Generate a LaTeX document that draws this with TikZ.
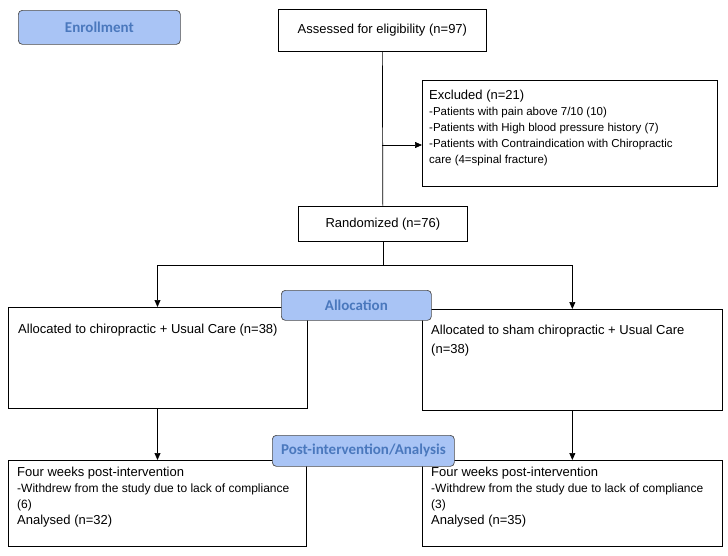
\documentclass[tikz,border=0pt]{standalone}
\usepackage{fontspec}
\setmainfont{Liberation Sans}
\newfontfamily\stagefont{Carlito}
\usetikzlibrary{positioning, arrows.meta}
\definecolor{stagefill}{HTML}{A9C4F5}
\definecolor{stagetext}{HTML}{4A78BD}
\tikzset{
    box/.style = {
        draw, rectangle, anchor=north west, inner sep=0pt, line width=0.7pt
    },
    boxtext/.style = {
        anchor=north west, align=left, font=\fontsize{13}{16}\selectfont, inner sep=0pt
    },
    stage/.style = {
        draw=black!70, fill=stagefill, rounded corners=4pt, anchor=north west, inner sep=0pt,
        text=stagetext, font=\stagefont\bfseries\fontsize{15}{17}\selectfont, line width=0.7pt
    },
    flow/.style = {line width=0.7pt, -{Triangle[width=6pt,length=7pt]}}
}
\begin{document}
\begin{tikzpicture}[x=1pt, y=-1pt]
        \useasboundingbox (0,0) rectangle (728,555);
        % Place the boxes
        \node[stage, minimum width=162, minimum height=34] (enrol) at (18,10) {Enrollment};
        \node[box, minimum width=208, minimum height=42] (assess) at (278,9) {};
        \node[boxtext, anchor=center] at (assess) {Assessed for eligibility (n=97)};
        \node[box, minimum width=295, minimum height=106] (excl) at (422,80) {};
        \node[boxtext, font=\fontsize{11.5}{16}\selectfont] at ([shift={(7,10)}] excl.north west)
            {{\fontsize{13}{16}\selectfont Excluded (n=21)}\\
             -Patients with pain above 7/10 (10)\\
             -Patients with High blood pressure history (7)\\
             -Patients with Contraindication with Chiropractic\\
             care (4=spinal fracture)};
        \node[box, minimum width=169, minimum height=35] (rand) at (298,206) {};
        \node[boxtext, anchor=center] at (rand) {Randomized (n=76)};
        \node[box, minimum width=299, minimum height=101] (leftalloc) at (8,307) {};
        \node[boxtext] at ([shift={(10,17)}] leftalloc.north west) {Allocated to chiropractic + Usual Care (n=38)};
        \node[box, minimum width=300, minimum height=101] (rightalloc) at (422,309) {};
        \node[boxtext, font=\fontsize{13}{19}\selectfont] at ([shift={(9,16)}] rightalloc.north west) {Allocated to sham chiropractic + Usual Care\\(n=38)};
        \node[box, minimum width=298, minimum height=86] (leftpost) at (8,460) {};
        \node[boxtext] at ([shift={(9,7)}] leftpost.north west)
            {Four weeks post-intervention\\{\fontsize{12}{16}\selectfont -Withdrew from the study due to lack of compliance}\\{\fontsize{12}{16}\selectfont (6)}\\Analysed (n=32)};
        \node[box, minimum width=300, minimum height=86] (rightpost) at (422,460) {};
        \node[boxtext] at ([shift={(9,7)}] rightpost.north west)
            {Four weeks post-intervention\\{\fontsize{12}{16}\selectfont -Withdrew from the study due to lack of compliance}\\{\fontsize{12}{16}\selectfont (3)}\\Analysed (n=35)};
        \node[stage, minimum width=150, minimum height=30] (alloc) at (281,290) {Allocation};
        \node[stage, minimum width=182, minimum height=31] (post) at (272,435) {Post-intervention/Analysis};
        % Connectors
        \draw[line width=0.7pt] (assess.south) -- (rand.north);
        \coordinate (split) at (assess.south |- 0,145);
        \draw[flow] (split) -- (split -| excl.west);
        \coordinate (fork) at (rand.south |- 0,265);
        \draw[line width=0.7pt] (rand.south) -- (fork);
        \draw[flow] (fork) -| ([xshift=149.5] leftalloc.north west);
        \draw[flow] (fork) -| (rightalloc.north);
        \draw[flow] ([xshift=149.5] leftalloc.south west) -- ([xshift=149.5] leftpost.north west);
        \draw[flow] (rightalloc.south) -- (rightpost.north);
    \end{tikzpicture}
\end{document}
